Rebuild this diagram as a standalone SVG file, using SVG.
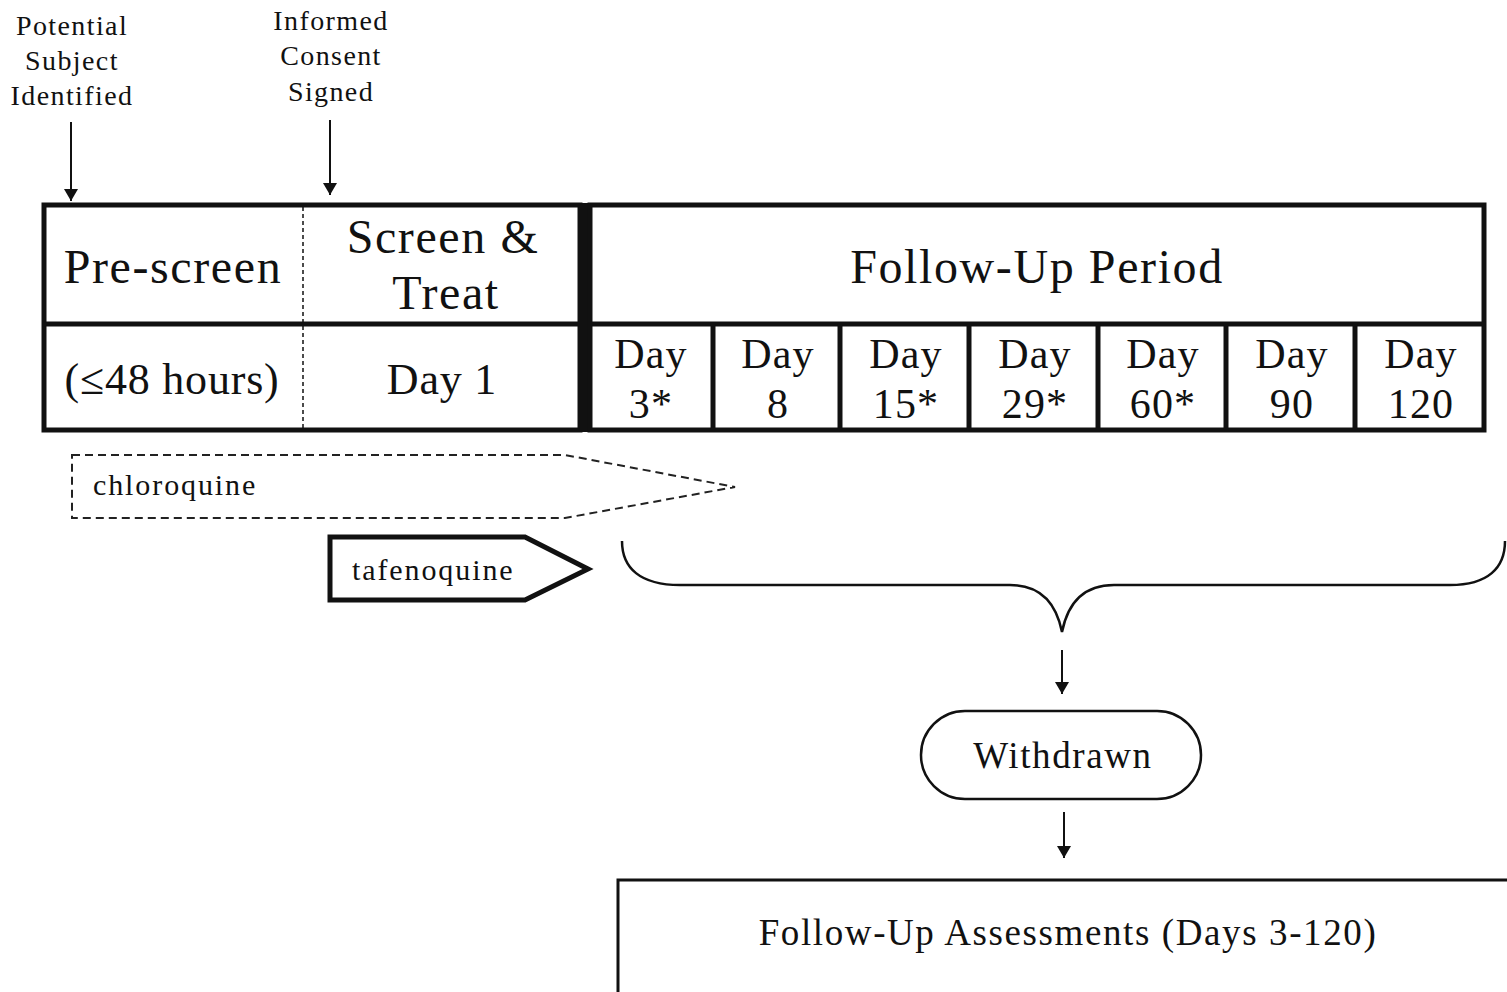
<svg xmlns="http://www.w3.org/2000/svg" width="1507" height="992" viewBox="0 0 1507 992">
<style>
text{font-family:"Liberation Serif","Times New Roman",serif;fill:#111;}
.sm{font-size:28px;letter-spacing:1.4px;text-anchor:middle;}
.big{font-size:48px;letter-spacing:1.6px;text-anchor:middle;}
.row2{font-size:44px;letter-spacing:0.8px;text-anchor:middle;}
.day{font-size:42px;letter-spacing:1.2px;text-anchor:middle;}
.mid{font-size:30px;letter-spacing:1.9px;}
.lbl{font-size:37px;letter-spacing:1.6px;text-anchor:middle;}
.line{stroke:#111;fill:none;}
</style>
<defs>
<marker id="arr" viewBox="0 0 12 14" refX="12" refY="7" markerWidth="12" markerHeight="14" orient="auto" markerUnits="userSpaceOnUse">
<path d="M0,0 L12,7 L0,14 Z" fill="#111"/>
</marker>
</defs>
<rect width="1507" height="992" fill="#fff"/>

<g id="label-potential">
<text class="sm" x="72" y="35">Potential</text>
<text class="sm" x="72" y="70">Subject</text>
<text class="sm" x="72" y="105">Identified</text>
</g>
<g id="label-consent">
<text class="sm" x="331" y="30">Informed</text>
<text class="sm" x="331" y="65">Consent</text>
<text class="sm" x="331" y="101">Signed</text>
</g>

<g id="prescreen-block">
<rect x="44" y="205" width="536" height="225" fill="#fff" stroke="#111" stroke-width="5"/>
<line x1="44" y1="324" x2="580" y2="324" stroke="#111" stroke-width="5"/>
<line x1="303" y1="207" x2="303" y2="428" stroke="#111" stroke-width="1.5" stroke-dasharray="4,3"/>
<text class="big" x="173" y="283">Pre-screen</text>
<text class="big" x="443" y="253">Screen &amp;</text>
<text class="big" x="446" y="309">Treat</text>
<text class="row2" x="172" y="394">(≤48 hours)</text>
<text class="row2" x="442" y="394">Day 1</text>
</g>

<g id="followup-block">
<rect x="579" y="203" width="13" height="229" fill="#111"/>
<rect x="590" y="205" width="894" height="225" fill="#fff" stroke="#111" stroke-width="5"/>
<line x1="590" y1="324" x2="1484" y2="324" stroke="#111" stroke-width="5"/>
<g stroke="#111" stroke-width="5">
<line x1="713" y1="324" x2="713" y2="430"/>
<line x1="840" y1="324" x2="840" y2="430"/>
<line x1="969" y1="324" x2="969" y2="430"/>
<line x1="1098" y1="324" x2="1098" y2="430"/>
<line x1="1226" y1="324" x2="1226" y2="430"/>
<line x1="1355" y1="324" x2="1355" y2="430"/>
</g>
<text class="big" x="1037" y="283">Follow-Up Period</text>
<text class="day" x="651" y="368">Day</text><text class="day" x="651" y="418">3*</text>
<text class="day" x="778" y="368">Day</text><text class="day" x="778" y="418">8</text>
<text class="day" x="906" y="368">Day</text><text class="day" x="906" y="418">15*</text>
<text class="day" x="1035" y="368">Day</text><text class="day" x="1035" y="418">29*</text>
<text class="day" x="1163" y="368">Day</text><text class="day" x="1163" y="418">60*</text>
<text class="day" x="1292" y="368">Day</text><text class="day" x="1292" y="418">90</text>
<text class="day" x="1421" y="368">Day</text><text class="day" x="1421" y="418">120</text>
</g>

<g id="chloroquine">
<path d="M72,455 L565,455 L735,487 L565,518 L72,518 Z" fill="none" stroke="#222" stroke-width="2" stroke-dasharray="8,5"/>
<text class="mid" x="93" y="495">chloroquine</text>
</g>

<g id="tafenoquine">
<path d="M330,537 L525,537 L588,569 L525,600 L330,600 Z" fill="#fff" stroke="#111" stroke-width="5" stroke-linejoin="miter"/>
<text class="mid" x="352" y="580">tafenoquine</text>
</g>

<g id="withdrawn">
<rect x="921" y="711" width="280" height="88" rx="44" ry="44" fill="#fff" stroke="#111" stroke-width="2.5"/>
<text class="lbl" x="1063" y="768">Withdrawn</text>
</g>

<g id="assessments">
<rect x="618" y="880" width="900" height="130" fill="#fff" stroke="#111" stroke-width="3"/>
<text class="lbl" x="1068" y="945">Follow-Up Assessments (Days 3-120)</text>
</g>

<g id="connectors">
<line x1="71" y1="122" x2="71" y2="201" class="line" stroke-width="2" marker-end="url(#arr)"/>
<line x1="330" y1="120" x2="330" y2="195" class="line" stroke-width="2" marker-end="url(#arr)"/>
<path d="M622,541 C622,568 640,585 680,585 L1010,585 C1040,585 1056,602 1062,632 C1068,602 1084,585 1114,585 L1450,585 C1488,585 1505,568 1505,541" class="line" stroke-width="2.5"/>
<line x1="1062" y1="650" x2="1062" y2="694" class="line" stroke-width="2" marker-end="url(#arr)"/>
<line x1="1064" y1="812" x2="1064" y2="858" class="line" stroke-width="2" marker-end="url(#arr)"/>
</g>
</svg>
